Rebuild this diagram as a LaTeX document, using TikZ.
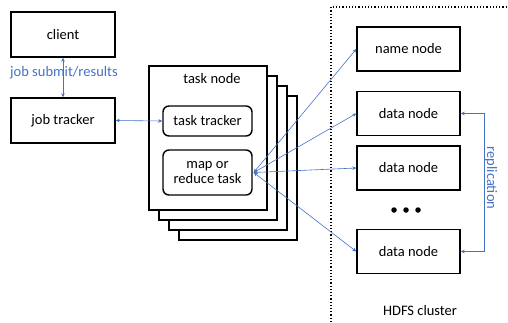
\documentclass[tikz,border=0pt]{standalone}
\usepackage{fontspec}
\setmainfont{Carlito}
\usetikzlibrary{arrows.meta}
\definecolor{lblue}{HTML}{4472C4}
\begin{document}
\begin{tikzpicture}[x=1pt,y=-1pt,
  box/.style={draw=black,line width=1.4pt,fill=white,inner sep=0pt},
  rbox/.style={draw=black,line width=1.4pt,fill=white,rounded corners=6pt,inner sep=0pt},
  lbl/.style={font=\fontsize{14.5}{16}\selectfont},
  conn/.style={draw=lblue,line width=0.6pt,{Stealth[length=4pt,width=3.5pt]}-{Stealth[length=4pt,width=3.5pt]}},
  btext/.style={text=lblue,font=\fontsize{14.5}{16}\selectfont,inner sep=0pt},
  dotc/.style={fill=black,circle,inner sep=0pt,minimum size=5.5pt}]
\useasboundingbox (0,0) rectangle (508,322);
% client / job tracker
\node[box,lbl,minimum width=104pt,minimum height=45pt] (client) at (63,34.5) {client};
\node[box,lbl,minimum width=104pt,minimum height=45pt] (jt) at (63,120.5) {job tracker};
\draw[conn] (client.south) -- (jt.north);
\node[btext] (jsr) at (64,73) {job submit/results};
% task node stack
\node[box,minimum width=118pt,minimum height=144pt] (s4) at (238,168) {};
\node[box,minimum width=118pt,minimum height=144pt] (s3) at (228,158) {};
\node[box,minimum width=118pt,minimum height=144pt] (s2) at (218,148) {};
\node[box,minimum width=118pt,minimum height=144pt] (s1) at (208,138) {};
\node[lbl] (tn) at (212,79) {task node};
\node[rbox,lbl,minimum width=89pt,minimum height=30pt] (tt) at (207.5,121) {task tracker};
\node[rbox,lbl,minimum width=89pt,minimum height=45pt,align=center] (mr) at (207.5,172.5) {map or\\[-1pt]reduce task};
\draw[conn] (jt.east) -- (tt.west);
% HDFS cluster
\coordinate (dtop) at (331,7);
\coordinate (dbot) at (331,322);
\coordinate (dright) at (508,7);
\draw[line width=1.2pt,dotted] (dbot) -- (dtop) -- (dright);
\node[box,lbl,minimum width=103pt,minimum height=44pt] (nn) at (408.5,49) {name node};
\node[box,lbl,minimum width=103pt,minimum height=44pt] (dn1) at (408.5,113.5) {data node};
\node[box,lbl,minimum width=103pt,minimum height=44pt] (dn2) at (408.5,168) {data node};
\node[dotc] (d1) at (394,210) {};
\node[dotc] (d2) at (406,210) {};
\node[dotc] (d3) at (418,210) {};
\node[box,lbl,minimum width=103pt,minimum height=44pt] (dn3) at (408.5,251.5) {data node};
\node[lbl] (hdfs) at (420,311) {HDFS cluster};
% fan
\coordinate (src) at ([xshift=1pt]mr.east);
\foreach \t in {nn,dn1,dn2,dn3}{
  \draw[conn] (src) -- (\t.west);
}
% replication
\coordinate (r1) at (484,113.5);
\coordinate (r2) at (484,251.5);
\draw[conn] (dn1.east) -- (r1) -- (r2) -- (dn3.east);
\node[btext,rotate=-90] (rep) at (491,178) {replication};
\end{tikzpicture}
\end{document}
